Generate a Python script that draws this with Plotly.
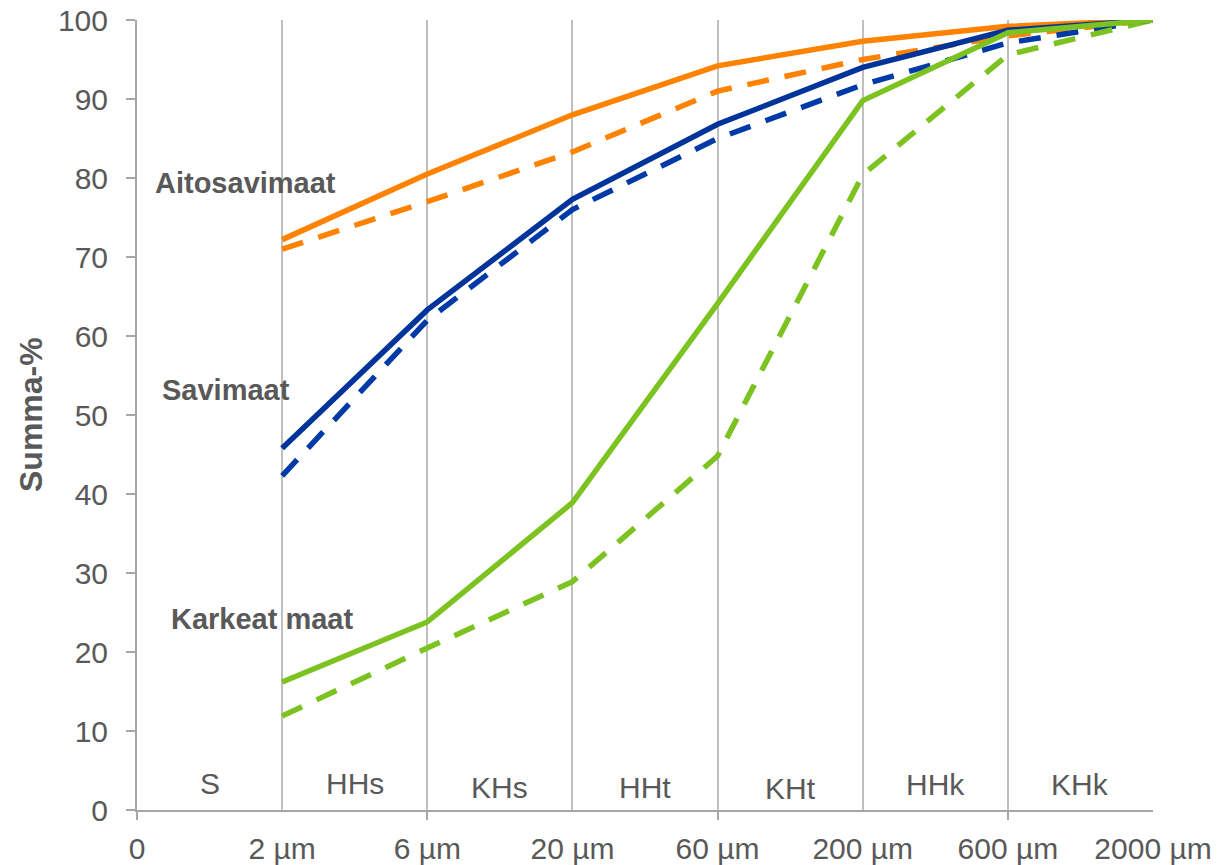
import plotly.graph_objects as go

# ---- data ----
sizes = ["0", "2 µm", "6 µm", "20 µm", "60 µm", "200 µm", "600 µm", "2000 µm"]
fractions = ["S", "HHs", "KHs", "HHt", "KHt", "HHk", "KHk"]
fraction_y = [3.4, 3.4, 2.9, 2.9, 2.7, 3.2, 3.2]

aito_solid = [72.2, 80.5, 88.0, 94.2, 97.3, 99.2, 100]
aito_dash = [71.0, 77.0, 83.3, 91.0, 95.0, 98.0, 100]
savi_solid = [45.8, 63.3, 77.3, 86.8, 94.0, 98.7, 100]
savi_dash = [42.3, 62.0, 76.0, 85.0, 91.8, 97.1, 100]
kark_solid = [16.2, 23.8, 38.9, 64.1, 89.8, 98.4, 100]
kark_dash = [11.9, 20.5, 28.9, 44.8, 80.4, 95.6, 100]

group_labels = ["Aitosavimaat", "Savimaat", "Karkeat maat"]

ORANGE = "#FF8200"
BLUE = "#00349A"
BLUE2 = "#0039A8"
GREEN = "#7CC220"
TXT = "#595959"
FONT = "Liberation Sans, Arial, sans-serif"
DASH = "22px,16px"
FS = 30

xs = sizes[1:]
fig = go.Figure()
series = [
    (aito_solid, ORANGE, "solid"),
    (aito_dash, ORANGE, DASH),
    (savi_solid, BLUE, "solid"),
    (savi_dash, BLUE2, DASH),
    (kark_solid, GREEN, "solid"),
    (kark_dash, GREEN, DASH),
]
# draw dashed first so solid lines lie on top where they meet
for vals, col, dash in [s for s in series if s[2] != "solid"] + [s for s in series if s[2] == "solid"]:
    fig.add_trace(go.Scatter(x=xs, y=vals, mode="lines",
                             line=dict(color=col, width=5.5, dash=dash),
                             showlegend=False, hoverinfo="skip"))

# invisible trace for the secondary (tick-only) axis
fig.add_trace(go.Scatter(x=sizes, y=[None] * len(sizes), xaxis="x2", mode="lines",
                         showlegend=False, hoverinfo="skip"))

annotations = []
for i, (lab, yy) in enumerate(zip(fractions, fraction_y)):
    annotations.append(dict(x=i + 0.5, y=yy, xref="x", yref="y", text=lab, showarrow=False,
                            font=dict(family=FONT, size=FS, color=TXT)))

for lab, xx, yy in zip(group_labels, [0.11, 0.16, 0.22], [79.4, 53.2, 24.2]):
    annotations.append(dict(x=xx, y=yy, xref="x", yref="y", text="<b>%s</b>" % lab,
                            showarrow=False, xanchor="left",
                            font=dict(family=FONT, size=29, color=TXT)))

annotations.append(dict(x=0, y=0.5, xref="paper", yref="paper", text="<b>Summa-%</b>",
                        textangle=-90, showarrow=False, xanchor="center", yanchor="middle",
                        xshift=-106, font=dict(family=FONT, size=32, color=TXT)))

fig.update_layout(
    width=1231, height=865,
    margin=dict(l=137, r=78, t=20, b=55, autoexpand=False),
    paper_bgcolor="white", plot_bgcolor="white",
    font=dict(family=FONT, size=FS, color=TXT),
    xaxis=dict(type="category", categoryarray=sizes, categoryorder="array",
               range=[0, 7], showgrid=True, gridcolor="#BFBFBF", gridwidth=1.5,
               showline=True, linecolor="#A6A6A6", linewidth=2, automargin=False,
               ticks="", tickfont=dict(size=FS, color=TXT), zeroline=False,
               ticklabelstandoff=11),
    xaxis2=dict(type="category", categoryarray=sizes, categoryorder="array",
                range=[0, 7], overlaying="x", anchor="y", side="bottom",
                showgrid=False, showline=False, showticklabels=False, automargin=False,
                tickvals=sizes[0::2], ticks="outside", ticklen=9, tickwidth=2,
                tickcolor="#A6A6A6", zeroline=False),
    yaxis=dict(range=[0, 100], dtick=10, showgrid=False, zeroline=False, automargin=False,
               showline=True, linecolor="#A6A6A6", linewidth=2,
               ticks="outside", ticklen=9, tickwidth=2, tickcolor="#A6A6A6",
               tickfont=dict(size=FS, color=TXT), ticklabelstandoff=12),
    annotations=annotations,
)

# remove the default page margin so the figure fills the window exactly
fig.write_html("out.html", config={"displayModeBar": False},
               post_script="document.body.style.margin='0px';document.body.style.overflow='hidden';")
